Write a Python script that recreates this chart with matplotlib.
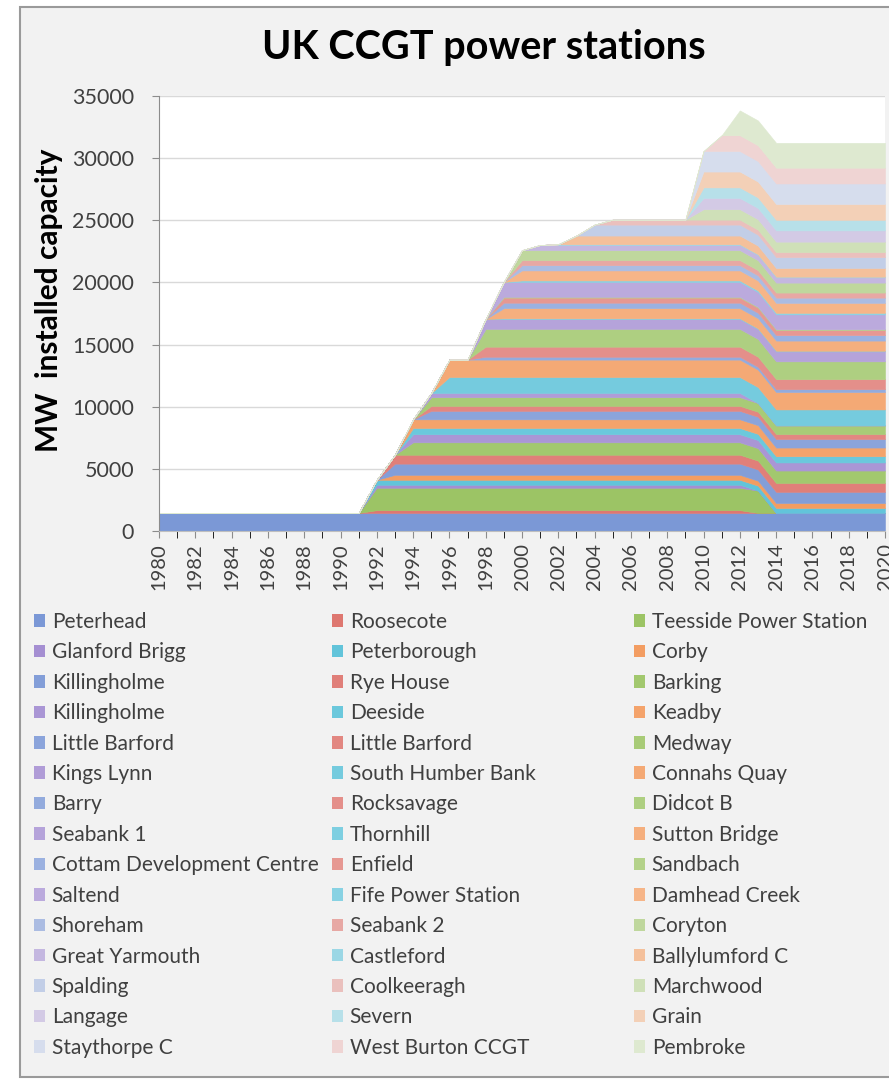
import numpy as np
import matplotlib.pyplot as plt
import matplotlib.colors as mcolors
from matplotlib.patches import Rectangle, Patch

# station list in stacking order (bottom -> top)
stations = ['Peterhead', 'Roosecote', 'Teesside Power Station',
            'Glanford Brigg', 'Peterborough', 'Corby',
            'Killingholme', 'Rye House', 'Barking',
            'Killingholme', 'Deeside', 'Keadby',
            'Little Barford', 'Little Barford', 'Medway',
            'Kings Lynn', 'South Humber Bank', 'Connahs Quay',
            'Barry', 'Rocksavage', 'Didcot B',
            'Seabank 1', 'Thornhill', 'Sutton Bridge',
            'Cottam Development Centre', 'Enfield', 'Sandbach',
            'Saltend', 'Fife Power Station', 'Damhead Creek',
            'Shoreham', 'Seabank 2', 'Coryton',
            'Great Yarmouth', 'Castleford', 'Ballylumford C',
            'Spalding', 'Coolkeeragh', 'Marchwood',
            'Langage', 'Severn', 'Grain',
            'Staythorpe C', 'West Burton CCGT', 'Pembroke']

capacity_mw = [1450, 230, 1800,
               240, 400, 400,
               900, 715, 1000,
               650, 500, 700,
               680, 400, 700,
               340, 1285, 1400,
               230, 810, 1430,
               800, 50, 820,
               440, 410, 60,
               1200, 120, 805,
               420, 410, 800,
               420, 56, 700,
               880, 400, 840,
               905, 850, 1275,
               1650, 1270, 2000]

opened = [1980, 1992, 1992,
          1992, 1992, 1993,
          1993, 1993, 1994,
          1994, 1994, 1994,
          1995, 1995, 1995,
          1995, 1996, 1996,
          1998, 1998, 1998,
          1998, 1999, 1999,
          1999, 1999, 1999,
          1999, 2000, 2000,
          2000, 2000, 2000,
          2001, 2002, 2003,
          2004, 2005, 2010,
          2010, 2010, 2010,
          2010, 2011, 2012]

# first year with no capacity (anything not listed still runs in 2020)
closed = {'Roosecote': 2013, 'Glanford Brigg': 2013, 'Kings Lynn': 2013,
          'Teesside Power Station': 2014}

years = np.arange(1980, 2021)

series = []
for name, cap, start in zip(stations, capacity_mw, opened):
    end = closed.get(name, 9999)
    series.append(np.where((years >= start) & (years < end), cap, 0))

# office-style palette, paler for every new round of six
base = ['#7b98d6', '#de7770', '#9cc465', '#a58fd2', '#62c4da', '#f39d62']
fade = [0.0, 0.06, 0.12, 0.18, 0.24, 0.32, 0.45, 0.6]
grey = [0, 0, 0, 0, 0, 0.1, 0.25, 0.35]
colors = []
for i in range(len(stations)):
    c = np.array(mcolors.to_rgb(base[i % 6]))
    k = i // 6
    c = c * (1 - grey[k]) + np.array([0.8, 0.8, 0.8]) * grey[k]
    c = c * (1 - fade[k]) + fade[k]
    colors.append(c)

plt.rcParams['font.family'] = ['Lato', 'DejaVu Sans']

fig = plt.figure(figsize=(8.89, 10.81), dpi=100, facecolor='white')
fig.patches.append(Rectangle((20 / 889, 0.004), 1, 1 - 7 / 1081 - 0.004,
                             transform=fig.transFigure, facecolor='#f2f2f2',
                             edgecolor='#9a9a9a', linewidth=1.5, zorder=-5))

ax = fig.add_axes([159 / 889, 1 - 531 / 1081, 726 / 889, 435 / 1081])
ax.set_facecolor('white')
ax.stackplot(years, series, colors=colors, linewidth=0.4, edgecolor='face')

ax.set_xlim(1980, 2020)
ax.set_ylim(0, 35000)
ax.set_yticks(np.arange(0, 35001, 5000))
ax.set_xticks(np.arange(1980, 2021, 2))
ax.set_xticks(years, minor=True)
ax.set_xticklabels([str(y) for y in range(1980, 2021, 2)], rotation=90)
ax.grid(axis='y', color='#d9d9d9', linewidth=1)
ax.set_axisbelow(True)
for s in ['top', 'right']:
    ax.spines[s].set_visible(False)
ax.spines['left'].set_color('#8c8c8c')
ax.spines['bottom'].set_color('#bfbfbf')
ax.tick_params(axis='both', colors='#8c8c8c', labelcolor='#404040')
ax.tick_params(axis='x', which='both', length=5, pad=4, labelsize=14.5)
ax.tick_params(axis='y', length=5, pad=13, labelsize=15.5)

ax.set_ylabel('MW  installed capacity', fontsize=21.5, fontweight='bold',
              color='black')
ax.yaxis.set_label_coords(-0.132, 0.53)
fig.text(484 / 889, 1 - 47 / 1081, 'UK CCGT power stations', fontsize=28.5,
         fontweight='bold', ha='center', va='center')

# legend: excel fills row by row, three columns
handles = [Patch(facecolor=c, edgecolor='none') for c in colors]
col_x = [34 / 889, 332 / 889, 634 / 889]
for c in range(3):
    idx = list(range(c, len(stations), 3))
    fig.legend([handles[i] for i in idx], [stations[i] for i in idx],
               loc='upper left', bbox_to_anchor=(col_x[c], 1 - 612 / 1081),
               frameon=False, fontsize=15, labelcolor='#404040',
               handlelength=0.55, handleheight=0.55, handletextpad=0.3,
               labelspacing=0.5, borderaxespad=0, borderpad=0)

fig.savefig('out.png', dpi=100, facecolor=fig.get_facecolor())
